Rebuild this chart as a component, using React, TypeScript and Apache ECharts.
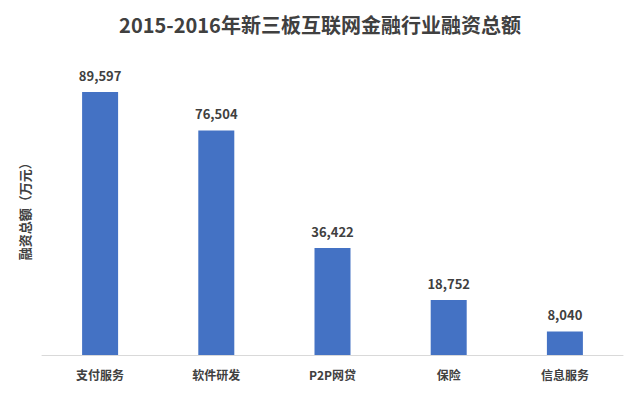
import React, { useEffect, useRef } from "react";
import * as echarts from "echarts";

const categories = ["支付服务", "软件研发", "P2P网贷", "保险", "信息服务"];
const values = [89597, 76504, 36422, 18752, 8040];
const titleText = "2015-2016年新三板互联网金融行业融资总额";
const yAxisName = "融资总额（万元）";

export default function App() {
  const ref = useRef<HTMLDivElement>(null);
  useEffect(() => {
    if (!ref.current) return;
    const chart = echarts.init(ref.current, undefined, { renderer: "svg" });
    const font = "'Noto Sans CJK SC', 'Microsoft YaHei', sans-serif";
    chart.setOption({
      animation: false,
      backgroundColor: "#ffffff",
      title: {
        text: titleText,
        left: "center",
        top: 9,
        textStyle: { fontFamily: font, fontSize: 20, fontWeight: "bold", color: "#404040" },
      },
      grid: { left: 42, right: 17, top: 61.5, bottom: 40 },
      xAxis: {
        type: "category",
        data: categories,
        axisLine: { show: true, lineStyle: { color: "#d9d9d9", width: 1 } },
        axisTick: { show: false },
        axisLabel: {
          margin: 13,
          fontFamily: font,
          fontSize: 12,
          fontWeight: "bold",
          color: "#404040",
        },
      },
      yAxis: {
        type: "value",
        min: 0,
        max: 100000,
        name: yAxisName,
        nameLocation: "middle",
        nameGap: 11,
        nameRotate: 90,
        nameTextStyle: { fontFamily: font, fontSize: 13, fontWeight: "bold", color: "#404040" },
        axisLine: { show: false },
        axisTick: { show: false },
        axisLabel: { show: false },
        splitLine: { show: false },
      },
      series: [
        {
          type: "bar",
          data: values,
          barWidth: 36,
          itemStyle: { color: "#4472C4" },
          label: {
            show: true,
            position: "top",
            distance: 10,
            fontFamily: font,
            fontSize: 13,
            fontWeight: "bold",
            color: "#404040",
            formatter: (p: any) => Number(p.value).toLocaleString("en-US"),
          },
        },
      ],
    });
    return () => chart.dispose();
  }, []);
  return <div ref={ref} style={{ width: 640, height: 395, position: "absolute", left: 0, top: 0 }} />;
}
